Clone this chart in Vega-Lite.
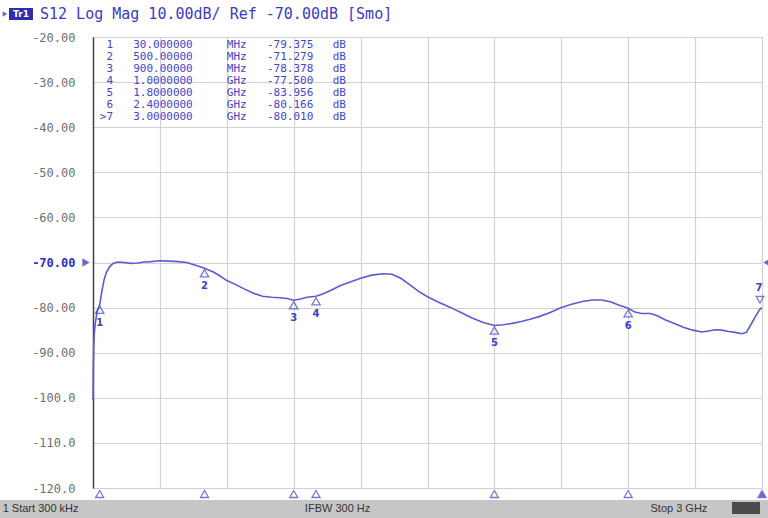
{
  "$schema": "https://vega.github.io/schema/vega-lite/v6.json",
  "width": 669,
  "height": 451,
  "autosize": {"type": "none"},
  "padding": {"left": 93, "top": 37, "right": 6, "bottom": 30},
  "background": "white",
  "config": {
    "view": {"stroke": "#777", "strokeWidth": 1},
    "font": "DejaVu Sans Mono"
  },
  "datasets": {
    "curve": [
      {"f": 0.0003, "db": -100.5}, {"f": 0.0008, "db": -97}, {"f": 0.0015, "db": -93}, {"f": 0.003, "db": -89},
      {"f": 0.006, "db": -85.5}, {"f": 0.01, "db": -83.6}, {"f": 0.018, "db": -81}, {"f": 0.03, "db": -79.375},
      {"f": 0.04, "db": -76.3}, {"f": 0.05, "db": -73.8}, {"f": 0.06, "db": -72.2}, {"f": 0.075, "db": -70.9},
      {"f": 0.09, "db": -70.2}, {"f": 0.11, "db": -69.9}, {"f": 0.14, "db": -70.0}, {"f": 0.17, "db": -70.2},
      {"f": 0.2, "db": -70.1}, {"f": 0.23, "db": -69.9}, {"f": 0.26, "db": -69.8}, {"f": 0.3, "db": -69.6},
      {"f": 0.34, "db": -69.7}, {"f": 0.38, "db": -69.8}, {"f": 0.42, "db": -70.0}, {"f": 0.46, "db": -70.6},
      {"f": 0.5, "db": -71.279}, {"f": 0.54, "db": -72.1}, {"f": 0.57, "db": -73.0}, {"f": 0.6, "db": -74.0},
      {"f": 0.64, "db": -74.9}, {"f": 0.68, "db": -75.9}, {"f": 0.72, "db": -76.8}, {"f": 0.76, "db": -77.5},
      {"f": 0.8, "db": -77.7}, {"f": 0.84, "db": -77.8}, {"f": 0.87, "db": -78.0}, {"f": 0.9, "db": -78.378},
      {"f": 0.93, "db": -78.1}, {"f": 0.96, "db": -77.7}, {"f": 1.0, "db": -77.5}, {"f": 1.03, "db": -77.0},
      {"f": 1.07, "db": -76.1}, {"f": 1.11, "db": -75.1}, {"f": 1.15, "db": -74.4}, {"f": 1.2, "db": -73.5},
      {"f": 1.25, "db": -72.8}, {"f": 1.3, "db": -72.5}, {"f": 1.34, "db": -72.6}, {"f": 1.38, "db": -73.5},
      {"f": 1.42, "db": -74.9}, {"f": 1.46, "db": -76.4}, {"f": 1.5, "db": -77.6}, {"f": 1.55, "db": -78.8},
      {"f": 1.6, "db": -79.9}, {"f": 1.65, "db": -81.1}, {"f": 1.7, "db": -82.3}, {"f": 1.75, "db": -83.3},
      {"f": 1.8, "db": -83.956}, {"f": 1.84, "db": -83.8}, {"f": 1.88, "db": -83.5}, {"f": 1.92, "db": -83.1},
      {"f": 1.96, "db": -82.6}, {"f": 2.0, "db": -82.0}, {"f": 2.05, "db": -81.1}, {"f": 2.1, "db": -80.0},
      {"f": 2.15, "db": -79.2}, {"f": 2.2, "db": -78.6}, {"f": 2.24, "db": -78.3}, {"f": 2.28, "db": -78.3},
      {"f": 2.32, "db": -78.7}, {"f": 2.36, "db": -79.5}, {"f": 2.4, "db": -80.166}, {"f": 2.43, "db": -81.0},
      {"f": 2.46, "db": -81.3}, {"f": 2.5, "db": -81.3}, {"f": 2.53, "db": -81.8}, {"f": 2.57, "db": -82.8},
      {"f": 2.61, "db": -83.6}, {"f": 2.65, "db": -84.4}, {"f": 2.69, "db": -85.0}, {"f": 2.73, "db": -85.4},
      {"f": 2.76, "db": -85.2}, {"f": 2.79, "db": -84.9}, {"f": 2.82, "db": -85.0}, {"f": 2.85, "db": -85.3},
      {"f": 2.88, "db": -85.5}, {"f": 2.91, "db": -85.8}, {"f": 2.93, "db": -85.5}, {"f": 2.95, "db": -83.8},
      {"f": 2.97, "db": -82.0}, {"f": 2.99, "db": -80.4}, {"f": 3.0, "db": -80.01}
    ],
    "markers": [
      {"n": 1, "lbl": "1", "f": 0.03, "db": -79.375, "ftxt": "30.000000", "unit": "MHz", "dbtxt": "-79.375"},
      {"n": 2, "lbl": "2", "f": 0.5, "db": -71.279, "ftxt": "500.00000", "unit": "MHz", "dbtxt": "-71.279"},
      {"n": 3, "lbl": "3", "f": 0.9, "db": -78.378, "ftxt": "900.00000", "unit": "MHz", "dbtxt": "-78.378"},
      {"n": 4, "lbl": "4", "f": 1.0, "db": -77.5, "ftxt": "1.0000000", "unit": "GHz", "dbtxt": "-77.500"},
      {"n": 5, "lbl": "5", "f": 1.8, "db": -83.956, "ftxt": "1.8000000", "unit": "GHz", "dbtxt": "-83.956"},
      {"n": 6, "lbl": "6", "f": 2.4, "db": -80.166, "ftxt": "2.4000000", "unit": "GHz", "dbtxt": "-80.166"},
      {"n": 7, "lbl": ">7", "f": 3.0, "db": -80.01, "ftxt": "3.0000000", "unit": "GHz", "dbtxt": "-80.010"}
    ],
    "status": [
      {"t": "1  Start 300 kHz", "f": -0.405},
      {"t": "IFBW 300 Hz", "f": 0.95},
      {"t": "Stop 3 GHz", "f": 2.5}
    ]
  },
  "layer": [
    {
      "layer": [
        {
          "data": {"name": "curve"},
          "mark": {"type": "line", "color": "#5b5bd6", "strokeWidth": 1.6, "interpolate": "linear"},
          "encoding": {
            "x": {"field": "f", "type": "quantitative", "scale": {"domain": [0, 3], "nice": false, "zero": false},
              "axis": {"values": [0, 0.3, 0.6, 0.9, 1.2, 1.5, 1.8, 2.1, 2.4, 2.7, 3.0], "labels": false, "ticks": false, "domain": false, "title": null, "grid": true, "gridColor": "#d2d2d2", "gridWidth": 1.2}},
            "y": {"field": "db", "type": "quantitative", "scale": {"domain": [-120, -20], "nice": false, "zero": false},
              "axis": {"values": [-120, -110, -100, -90, -80, -70, -60, -50, -40, -30, -20], "title": null, "ticks": false, "grid": true, "gridColor": "#d2d2d2", "gridWidth": 1.2,
                "domainColor": "#444", "domainWidth": 1.5, "labelPadding": 18, "labelFontSize": 12, "labelFont": "DejaVu Sans Mono",
                "labelExpr": "datum.value > -100 ? datum.value + '.00' : datum.value + '.0'",
                "labelColor": {"condition": {"test": "datum.value == -70", "value": "#3030c0"}, "value": "#707070"},
                "labelFontWeight": {"condition": {"test": "datum.value == -70", "value": "bold"}, "value": "normal"}}}
          }
        },
        {
          "data": {"name": "markers"},
          "transform": [{"filter": "datum.n < 7"}],
          "mark": {"type": "point", "shape": "triangle-up", "filled": false, "stroke": "#4040c8", "strokeWidth": 1.3, "size": 70, "yOffset": 5},
          "encoding": {"x": {"field": "f", "type": "quantitative"}, "y": {"field": "db", "type": "quantitative"}}
        },
        {
          "data": {"name": "markers"},
          "transform": [{"filter": "datum.n < 7"}],
          "mark": {"type": "text", "color": "#4040c8", "fontSize": 10, "font": "DejaVu Sans", "fontWeight": "bold", "yOffset": 18},
          "encoding": {"x": {"field": "f", "type": "quantitative"}, "y": {"field": "db", "type": "quantitative"}, "text": {"field": "n"}}
        },
        {
          "data": {"name": "markers"},
          "transform": [{"filter": "datum.n == 7"}],
          "mark": {"type": "point", "shape": "triangle-down", "filled": false, "stroke": "#4040c8", "strokeWidth": 1.3, "size": 60, "yOffset": -8, "xOffset": -2},
          "encoding": {"x": {"field": "f", "type": "quantitative"}, "y": {"field": "db", "type": "quantitative"}}
        },
        {
          "data": {"name": "markers"},
          "transform": [{"filter": "datum.n == 7"}],
          "mark": {"type": "text", "color": "#4040c8", "fontSize": 10, "font": "DejaVu Sans", "fontWeight": "bold", "yOffset": -20, "xOffset": -3},
          "encoding": {"x": {"field": "f", "type": "quantitative"}, "y": {"field": "db", "type": "quantitative"}, "text": {"field": "n"}}
        },
        {
          "data": {"name": "markers"},
          "mark": {"type": "point", "shape": "triangle-up", "filled": true, "strokeWidth": 1.3, "size": 65, "yOffset": 6},
          "encoding": {
            "x": {"field": "f", "type": "quantitative"},
            "y": {"datum": -120},
            "fill": {"condition": {"test": "datum.n == 7", "value": "#2a2ab8"}, "value": "white"},
            "stroke": {"value": "#4040c8"}
          }
        },
        {
          "data": {"values": [{"side": "L"}]},
          "mark": {"type": "point", "shape": "triangle-right", "filled": true, "color": "#2a2ab8", "size": 70, "xOffset": -7},
          "encoding": {"x": {"datum": 0}, "y": {"datum": -70}}
        },
        {
          "data": {"values": [{"side": "R"}]},
          "mark": {"type": "point", "shape": "triangle-left", "filled": true, "color": "#2a2ab8", "size": 70, "xOffset": 5},
          "encoding": {"x": {"datum": 3}, "y": {"datum": -70}}
        },
        {
          "data": {"values": [{"k": "bar"}]},
          "mark": {"type": "rect", "color": "#c6c6c6", "xOffset": -93, "x2Offset": 6, "yOffset": 12, "y2Offset": 30},
          "encoding": {"x": {"datum": 0}, "x2": {"datum": 3}, "y": {"datum": -120}, "y2": {"datum": -120}}
        },
        {
          "data": {"values": [{"k": "box"}]},
          "mark": {"type": "rect", "color": "#4a4a4a", "xOffset": -30, "x2Offset": -2, "yOffset": 14, "y2Offset": 26},
          "encoding": {"x": {"datum": 3}, "x2": {"datum": 3}, "y": {"datum": -120}, "y2": {"datum": -120}}
        },
        {
          "data": {"name": "status"},
          "mark": {"type": "text", "align": "left", "baseline": "middle", "font": "Liberation Sans", "fontSize": 11, "color": "#333", "yOffset": 21},
          "encoding": {"x": {"field": "f", "type": "quantitative"}, "y": {"datum": -120}, "text": {"field": "t"}}
        },
        {
          "data": {"values": [{"k": "tr"}]},
          "mark": {"type": "rect", "color": "#2e2ea8", "xOffset": -84, "x2Offset": -60, "yOffset": -29, "y2Offset": -17},
          "encoding": {"x": {"datum": 0}, "x2": {"datum": 0}, "y": {"datum": -20}, "y2": {"datum": -20}}
        },
        {
          "data": {"values": [{"k": "tr"}]},
          "mark": {"type": "text", "text": "Tr1", "color": "white", "font": "DejaVu Sans", "fontSize": 9, "fontWeight": "bold", "align": "center", "baseline": "middle", "xOffset": -72, "yOffset": -23},
          "encoding": {"x": {"datum": 0}, "y": {"datum": -20}}
        },
        {
          "data": {"values": [{"k": "head"}]},
          "mark": {"type": "text", "text": "S12 Log Mag 10.00dB/ Ref -70.00dB [Smo]", "color": "#3c3cc0", "font": "DejaVu Sans Mono", "fontSize": 15, "align": "left", "baseline": "middle", "xOffset": -53, "yOffset": -23},
          "encoding": {"x": {"datum": 0}, "y": {"datum": -20}}
        },
        {
          "data": {"values": [{"k": "tr"}]},
          "mark": {"type": "point", "shape": "triangle-right", "filled": true, "color": "#2a2ab8", "size": 30, "xOffset": -88, "yOffset": -23},
          "encoding": {"x": {"datum": 0}, "y": {"datum": -20}}
        }
      ]
    },
    {
      "data": {"name": "markers"},
      "encoding": {
        "y": {"field": "n", "type": "quantitative", "scale": {"domain": [1, 7], "range": [8, 80], "zero": false, "nice": false}, "axis": null}
      },
      "layer": [
        {
          "mark": {"type": "text", "align": "right", "baseline": "middle", "fontSize": 11, "font": "DejaVu Sans Mono", "color": "#4545c8"},
          "encoding": {"x": {"datum": 0.09}, "text": {"field": "lbl"}}
        },
        {
          "mark": {"type": "text", "align": "left", "baseline": "middle", "fontSize": 11, "font": "DejaVu Sans Mono", "color": "#4545c8"},
          "encoding": {"x": {"datum": 0.18}, "text": {"field": "ftxt"}}
        },
        {
          "mark": {"type": "text", "align": "left", "baseline": "middle", "fontSize": 11, "font": "DejaVu Sans Mono", "color": "#4545c8"},
          "encoding": {"x": {"datum": 0.6}, "text": {"field": "unit"}}
        },
        {
          "mark": {"type": "text", "align": "left", "baseline": "middle", "fontSize": 11, "font": "DejaVu Sans Mono", "color": "#4545c8"},
          "encoding": {"x": {"datum": 0.78}, "text": {"field": "dbtxt"}}
        },
        {
          "mark": {"type": "text", "align": "left", "baseline": "middle", "fontSize": 11, "font": "DejaVu Sans Mono", "color": "#4545c8", "text": "dB"},
          "encoding": {"x": {"datum": 1.075}}
        },
        {
          "data": {"values": [{"k": "box"}]},
          "mark": {"type": "rect", "fill": null, "fillOpacity": 0, "stroke": "#9a9a9a", "strokeWidth": 1},
          "encoding": {"x": {"datum": 0.01}, "x2": {"datum": 1.19}, "y": {"datum": 0.33}, "y2": {"datum": 7.6}}
        }
      ]
    }
  ],
  "resolve": {"scale": {"y": "independent"}}
}
